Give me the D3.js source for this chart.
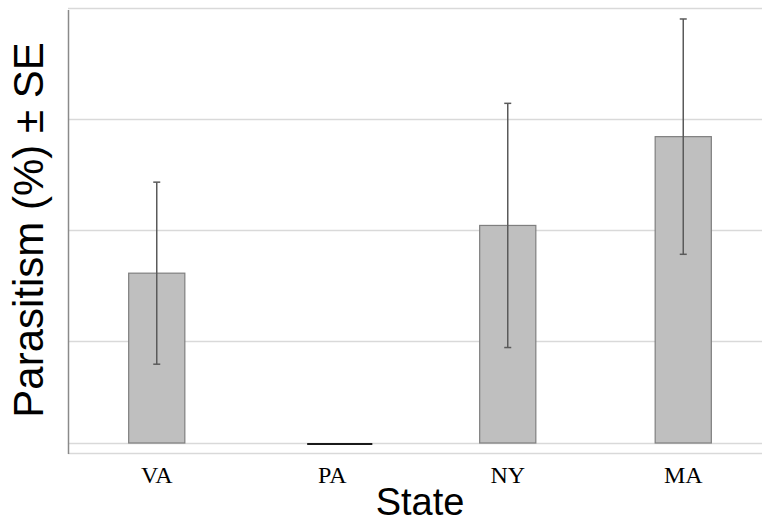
<!DOCTYPE html>
<html>
<head>
<meta charset="utf-8">
<script src="https://cdn.jsdelivr.net/npm/d3@7"></script>
<style>
  body { margin: 0; background: #fff; }
</style>
</head>
<body>
<script>
const width = 762;
const height = 524;

// data
const states = ['VA', 'PA', 'NY', 'MA'];
const means = [15.3, 0, 19.6, 27.6];
const errors = [8.2, 0, 11.0, 10.6];
const gridValues = [0, 9.2, 19.2, 29.2, 39.2];

const svg = d3.select('body')
    .append('svg')
    .attr('width', width)
    .attr('height', height);

//scales
const xScale = d3.scaleBand()
    .domain(states)
    .range([69, 771])
    .paddingInner(0.68)
    .paddingOuter(0.34);
const yScale = d3.scaleLinear()
    .domain([0, 40])
    .range([443, -1]);

//gridlines
svg.append('g')
    .selectAll('line')
    .data(gridValues)
    .enter()
    .append('line')
        .attr('x1', 68)
        .attr('x2', width)
        .attr('y1', d => Math.round(yScale(d)) + 0.5)
        .attr('y2', d => Math.round(yScale(d)) + 0.5)
        .attr('stroke', '#d9d9d9')
        .attr('stroke-width', 1.5);

// bottom frame line
svg.append('line')
    .attr('x1', 68).attr('x2', width)
    .attr('y1', 453.5).attr('y2', 453.5)
    .attr('stroke', '#d9d9d9')
    .attr('stroke-width', 1.5);

// y axis line
svg.append('line')
    .attr('x1', 68.5).attr('x2', 68.5)
    .attr('y1', 10).attr('y2', 454)
    .attr('stroke', '#8a8a8a')
    .attr('stroke-width', 1.5);

const data = states.map((s, i) => ({state: s, mean: means[i], se: errors[i]}));

//bars
svg.append('g')
    .selectAll('rect')
    .data(data.filter(d => d.mean > 0))
    .enter()
    .append('rect')
        .attr('x', d => xScale(d.state))
        .attr('y', d => yScale(d.mean))
        .attr('width', xScale.bandwidth())
        .attr('height', d => yScale(0) - yScale(d.mean))
        .attr('fill', '#bfbfbf')
        .attr('stroke', '#7f7f7f')
        .attr('stroke-width', 1.2);

// zero-height bars show as a dark line (a bit wider, shifted right as in the original)
svg.append('g')
    .selectAll('line')
    .data(data.filter(d => d.mean === 0))
    .enter()
    .append('line')
        .attr('x1', d => xScale(d.state) + 3)
        .attr('x2', d => xScale(d.state) + xScale.bandwidth() + 12)
        .attr('y1', yScale(0) + 1)
        .attr('y2', yScale(0) + 1)
        .attr('stroke', '#1a1a1a')
        .attr('stroke-width', 2);

//error bars
const err = svg.append('g')
    .selectAll('g')
    .data(data.filter(d => d.se > 0))
    .enter()
    .append('g')
    .attr('stroke', '#5a5a5a')
    .attr('stroke-width', 1.5);
err.append('line')
    .attr('x1', d => xScale(d.state) + xScale.bandwidth() / 2)
    .attr('x2', d => xScale(d.state) + xScale.bandwidth() / 2)
    .attr('y1', d => yScale(d.mean + d.se))
    .attr('y2', d => yScale(d.mean - d.se));
[1, -1].forEach(sign => {
    err.append('line')
        .attr('x1', d => xScale(d.state) + xScale.bandwidth() / 2 - 3.5)
        .attr('x2', d => xScale(d.state) + xScale.bandwidth() / 2 + 3.5)
        .attr('y1', d => yScale(d.mean + sign * d.se))
        .attr('y2', d => yScale(d.mean + sign * d.se));
});

// x tick labels
const xAxis = d3.axisBottom(xScale).tickSize(0).tickPadding(0);
const gx = svg.append('g')
    .attr('transform', 'translate(0, 483)')
    .call(xAxis);
gx.select('.domain').remove();
gx.selectAll('text')
    .attr('dy', 0)
    .attr('fill', '#000')
    .style('font-family', '"Liberation Serif", "Times New Roman", serif')
    .style('font-size', '24px');

// axis titles
svg.append('text')
    .attr('x', 420)
    .attr('y', 515)
    .attr('text-anchor', 'middle')
    .style('font-family', '"Liberation Sans", Arial, sans-serif')
    .style('font-size', '38px')
    .text('State');

svg.append('text')
    .attr('transform', 'rotate(-90)')
    .attr('x', -230)
    .attr('y', 43)
    .attr('text-anchor', 'middle')
    .style('font-family', '"Liberation Sans", Arial, sans-serif')
    .style('font-size', '42px')
    .text('Parasitism (%) ± SE');
</script>
</body>
</html>
